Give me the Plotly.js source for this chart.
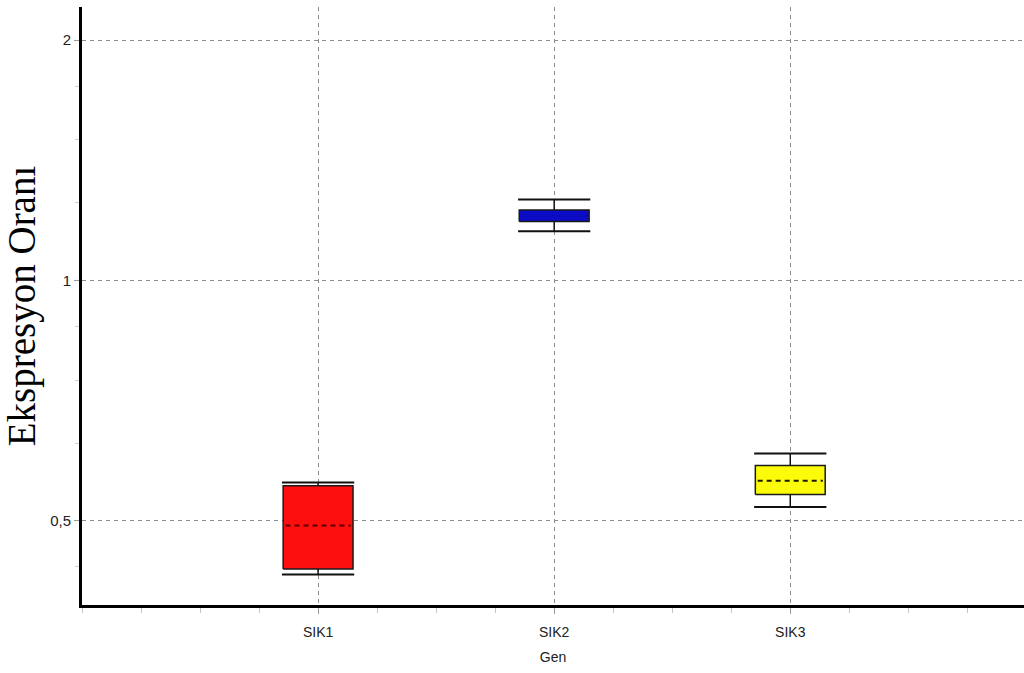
<!DOCTYPE html>
<html>
<head>
<meta charset="utf-8">
<script src="https://cdn.plot.ly/plotly-3.0.1.min.js"></script>
<style>
  html, body { margin: 0; padding: 0; background: #ffffff; }
  #chart { width: 1024px; height: 673px; }
</style>
</head>
<body>
<div id="chart"></div>
<script>
// Gene expression ratios (log scale), one box per gene
const genes = ['SIK1', 'SIK2', 'SIK3'];
const lowerWhisker = [0.428, 1.152, 0.520];
const q1 = [0.435, 1.185, 0.539];
const median = [0.493, 1.205, 0.561];
const q3 = [0.553, 1.225, 0.586];
const upperWhisker = [0.558, 1.263, 0.607];

// y-axis labels (comma decimal separator)
const yTickVals = [0.5, 1, 2];
const yTickText = ['0,5', '1', '2'];
const yMinorVals = [0.4375, 0.625, 0.75, 0.875, 1.25, 1.5, 1.75];

// per-gene styling
const fillColors = ['#fe0f0f', '#0c0cc8', '#fbfb0a'];
const medianColors = ['#5a0000', '#0a0ab4', '#1a1a00'];

const boxHalf = 0.148;
const capHalf = 0.153;

const traces = [];
genes.forEach((g, i) => {
  // whisker stems
  traces.push({
    type: 'scatter', mode: 'lines', hoverinfo: 'skip',
    x: [i, i, null, i, i],
    y: [q3[i], upperWhisker[i], null, lowerWhisker[i], q1[i]],
    line: { color: '#111111', width: 1.5 }
  });
  // whisker caps
  traces.push({
    type: 'scatter', mode: 'lines', hoverinfo: 'skip',
    x: [i - capHalf, i + capHalf, null, i - capHalf, i + capHalf],
    y: [upperWhisker[i], upperWhisker[i], null, lowerWhisker[i], lowerWhisker[i]],
    line: { color: '#111111', width: 2 }
  });
  // interquartile box
  traces.push({
    type: 'scatter', mode: 'lines', name: g,
    x: [i - boxHalf, i + boxHalf, i + boxHalf, i - boxHalf, i - boxHalf],
    y: [q1[i], q1[i], q3[i], q3[i], q1[i]],
    fill: 'toself', fillcolor: fillColors[i],
    line: { color: '#1a1a1a', width: 1.5 }
  });
  // median
  traces.push({
    type: 'scatter', mode: 'lines', hoverinfo: 'skip',
    x: [i - boxHalf + 0.01, i + boxHalf - 0.01],
    y: [median[i], median[i]],
    line: { color: medianColors[i], width: 2, dash: '5px,4px' }
  });
});

const gridStyle = { gridcolor: '#8c8c8c', gridwidth: 1, griddash: '4px,4px' };
const sansFont = 'Liberation Sans, Arial, sans-serif';

const layout = {
  width: 1024,
  height: 673,
  margin: { l: 82, r: 0, t: 7, b: 68 },
  paper_bgcolor: '#ffffff',
  plot_bgcolor: '#ffffff',
  showlegend: false,
  hovermode: false,
  xaxis: Object.assign({
    range: [-1, 2.99],
    tickmode: 'array',
    tickvals: genes.map((_, i) => i),
    ticktext: genes,
    showline: true, linecolor: '#000000', linewidth: 3,
    ticks: 'outside', ticklen: 6, tickcolor: '#9a9a9a', tickwidth: 1,
    ticklabelstandoff: 6,
    showgrid: true, zeroline: false,
    minor: { dtick: 0.25, tick0: 0, ticks: 'outside', ticklen: 5, tickcolor: '#c4c4c4', showgrid: false },
    tickfont: { family: sansFont, size: 14, color: '#222222' },
    title: { text: 'Gen', standoff: 14, font: { family: sansFont, size: 14, color: '#222222' } }
  }, gridStyle),
  yaxis: Object.assign({
    type: 'log',
    range: [Math.log10(0.392), Math.log10(2.2)],
    tickmode: 'array',
    tickvals: yTickVals,
    ticktext: yTickText,
    showline: true, linecolor: '#000000', linewidth: 3,
    ticks: 'outside', ticklen: 5, tickcolor: '#9a9a9a', tickwidth: 1,
    showgrid: true, zeroline: false,
    minor: { tickmode: 'array', tickvals: yMinorVals, ticks: 'outside', ticklen: 4, tickcolor: '#d0d0d0', showgrid: false },
    tickfont: { family: sansFont, size: 15, color: '#222222' },
    title: { text: 'Ekspresyon Oranı', standoff: 8, font: { family: 'Liberation Serif, Times New Roman, serif', size: 39, color: '#000000' } }
  }, gridStyle)
};

Plotly.newPlot('chart', traces, layout, { displayModeBar: false, staticPlot: true });
</script>
</body>
</html>
